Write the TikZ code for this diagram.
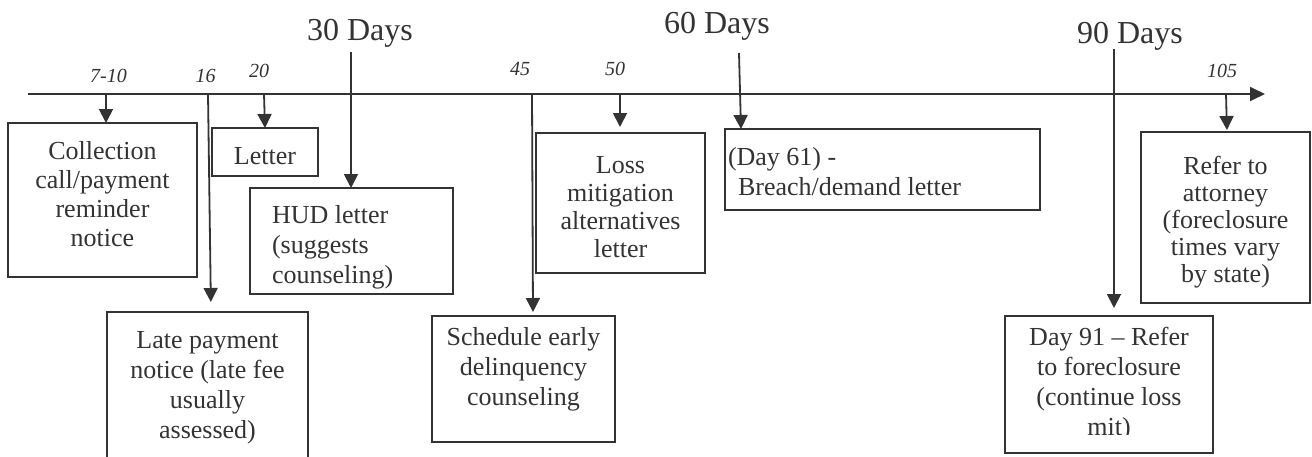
\documentclass[tikz,border=0pt]{standalone}
\usepackage{fontspec}
\setmainfont{Liberation Serif}
\usetikzlibrary{arrows.meta}
\definecolor{ink}{HTML}{333333}
% width, height, baselineskip, top pad, alignment, content
\newcommand{\bxt}[6]{\parbox[c][#2][t]{#1}{\fontsize{13pt}{#3}\selectfont#5\vspace*{#4}\strut#6}}
\begin{document}
\begin{tikzpicture}[x=0.5pt,y=-0.5pt,
  box/.style={draw=ink,line width=1pt,inner sep=0pt,outer sep=0pt,text=ink,anchor=north west},
  arr/.style={draw=ink,line width=0.9pt,-{Triangle[length=7pt,width=7pt]}},
  num/.style={text=ink,font=\fontsize{10pt}{12pt}\selectfont\itshape,anchor=base,inner sep=0pt},
  big/.style={text=ink,font=\fontsize{16pt}{19pt}\selectfont,anchor=base,inner sep=0pt}]
\useasboundingbox (0,0) rectangle (1312,456);

% period labels
\node[big] (d30) at (360,40) {30 Days};
\node[big] (d60) at (717,33) {60 Days};
\node[big] (d90) at (1130,43) {90 Days};
% day numbers
\node[num] (n710) at (108.5,82) {7-10};
\node[num] (n16) at (205.5,82) {16};
\node[num] (n20) at (259,77) {20};
\node[num] (n45) at (520,75) {45};
\node[num] (n50) at (615,75) {50};
\node[num] (n105) at (1222,77) {105};

% timeline
\coordinate (t0) at (28,94);
\coordinate (t1) at (1265,94);
\draw[arr,-{Triangle[length=7.5pt,width=7pt]}] (t0) -- (t1);

% boxes
\node[box] (coll) at (8,123) {\bxt{94.5pt}{77pt}{14.6pt}{7.8pt}{\centering}{Collection\\ call/payment\\ reminder\\ notice}};
\node[box] (letter) at (212,128) {\bxt{53pt}{24pt}{15pt}{7.5pt}{\centering}{Letter}};
\node[box] (hud) at (250,188) {\bxt{101.5pt}{53pt}{15pt}{7pt}{\raggedright\leftskip=11pt}{HUD letter\\ (suggests\\ counseling)}};
\node[box] (late) at (107,312) {\bxt{100.5pt}{79pt}{15pt}{7.5pt}{\centering}{Late payment\\ notice (late fee\\ usually\\ assessed)}};
\node[box] (sched) at (432,316) {\bxt{91.5pt}{63pt}{15pt}{4pt}{\centering}{Schedule early\\ delinquency\\ counseling}};
\node[box] (loss) at (536,133) {\bxt{84.5pt}{70pt}{14pt}{10.2pt}{\centering}{Loss\\ mitigation\\ alternatives\\ letter}};
\node[box] (d61) at (725,129) {\bxt{157.5pt}{40.5pt}{15pt}{7.5pt}{\raggedright}{\hspace*{1.5pt}(Day 61) -\\ \hspace*{6.5pt}Breach/demand letter}};
\node[box,minimum width=104pt,minimum height=68.5pt,
  path picture={
    \clip (path picture bounding box.north west) rectangle ([yshift=9.5pt]path picture bounding box.south east);
    \node[draw=none,inner sep=0pt,anchor=north west,text=ink] (d91txt) at (path picture bounding box.north west)
      {\bxt{104pt}{68.5pt}{15pt}{4pt}{\centering}{Day 91 -- Refer\\ to foreclosure\\ (continue loss\\ mit)}};
  }] (d91) at (1005,316) {};
\node[box] (refer) at (1141,132) {\bxt{84.5pt}{85.5pt}{13.5pt}{12pt}{\centering}{Refer to\\ attorney\\ (foreclosure\\ times vary\\ by state)}};

% tick points
\coordinate (p710) at (106,94);
\coordinate (p16) at (208,94);
\coordinate (p20) at (264,94);
\coordinate (p45) at (532,94);
\coordinate (p50) at (620,94);
\coordinate (p105) at (1226,94);
\coordinate (s30) at (351,52);
\coordinate (s60) at (739,53);
\coordinate (s90) at (1114,49);

% connectors
\draw[arr] (p710) -- (p710 |- coll.north);
\draw[arr,shorten >=5pt] (p16) -- ([xshift=52pt]late.north west);
\draw[arr] (p20) -- ([xshift=26.5pt]letter.north west);
\draw[arr] (s30) -- (s30 |- hud.north);
\draw[arr,shorten >=2pt] (p45) -- ([xshift=50.5pt]sched.north west);
\draw[arr,shorten >=3pt] (p50) -- (p50 |- loss.north);
\draw[arr] (s60) -- ([xshift=8pt]d61.north west);
\draw[arr,shorten >=4pt] (s90) -- (s90 |- d91.north);
\draw[arr,shorten >=1pt] (p105) -- ([xshift=43pt]refer.north west);
\end{tikzpicture}
\end{document}
